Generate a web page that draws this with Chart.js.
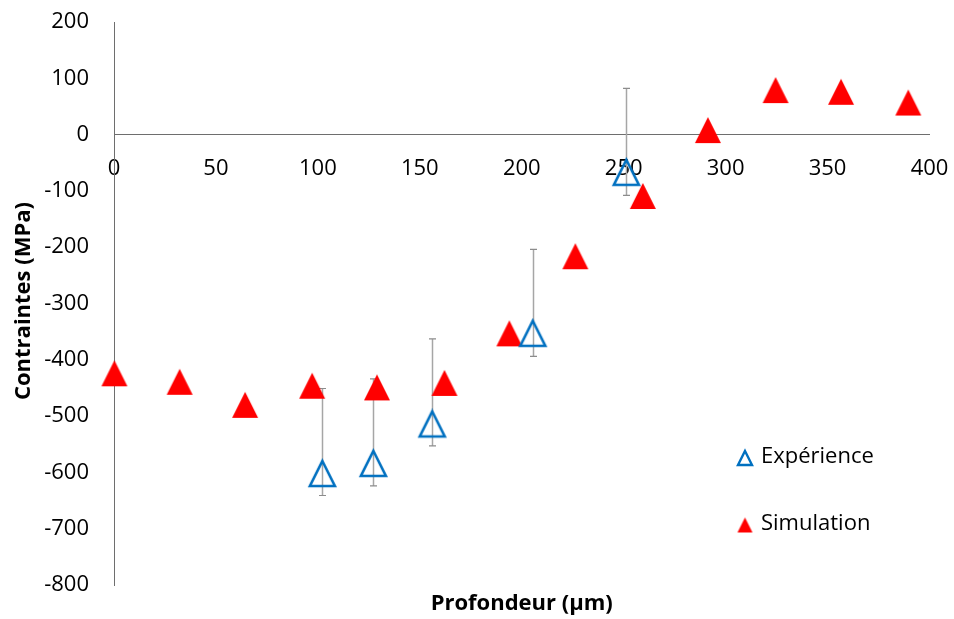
<!DOCTYPE html>
<html>
<head>
<meta charset="utf-8">
<script src="https://cdn.jsdelivr.net/npm/chart.js@4/dist/chart.umd.min.js"></script>
<style>
html,body{margin:0;padding:0;background:#fff;}
#wrap{width:954px;height:619px;position:relative;}
</style>
</head>
<body>
<div id="wrap"><canvas id="c" width="954" height="619"></canvas></div>
<script>
// ---- Data ----
const xTitle = "Profondeur (µm)";
const yTitle = "Contraintes (MPa)";
const expLabel = "Expérience";
const simLabel = "Simulation";

const expX = [102.2, 127.2, 156.1, 205.4, 251.3];
const expY = [-602, -584, -514, -353, -67];
const expErrPlus = [151, 150, 151, 149, 149];
const expErrMinus = [39, 40, 39, 41, 41];

const simX = [0.2, 32.2, 64.3, 97.2, 129, 162.1, 193.9, 226.3, 259.4, 291.3, 324.5, 356.6, 389.6];
const simY = [-424, -439, -480, -446, -449, -441, -353, -216, -109, 8, 79, 76, 57];

const xMin = 0, xMax = 400, xStep = 50;
const yMin = -800, yMax = 200, yStep = 100;

// ---- Styles ----
const FONT = "'Open Sans', 'Liberation Sans', sans-serif";
const BLUE = '#0070C0';
const RED = '#FF0000';

function makeTri(size, filled, color, lw) {
  const c = document.createElement('canvas');
  const s = size + 6;
  c.width = s; c.height = s;
  const g = c.getContext('2d');
  const cx = s / 2, cy = s / 2, h = size / 2;
  g.beginPath();
  g.moveTo(cx, cy - h);
  g.lineTo(cx + h, cy + h);
  g.lineTo(cx - h, cy + h);
  g.closePath();
  if (filled) { g.fillStyle = color; g.fill(); }
  else { g.strokeStyle = color; g.lineWidth = lw; g.lineJoin = 'miter'; g.stroke(); }
  return c;
}
const redTri = makeTri(26, true, RED);
const blueTri = makeTri(25, false, BLUE, 2.6);
const redTriS = makeTri(15, true, RED);
const blueTriS = makeTri(14, false, BLUE, 2.4);

const errorBars = {
  id: 'errorBars',
  beforeDatasetsDraw(chart) {
    const {ctx, scales: {x, y}} = chart;
    ctx.save();
    for (let i = 0; i < expX.length; i++) {
      const px = Math.round(x.getPixelForValue(expX[i])) + 0.5;
      const top = y.getPixelForValue(expY[i] + expErrPlus[i]);
      const bot = y.getPixelForValue(expY[i] - expErrMinus[i]);
      ctx.strokeStyle = '#a6a6a6';
      ctx.lineWidth = 1.5;
      ctx.beginPath();
      ctx.moveTo(px, top); ctx.lineTo(px, bot);
      ctx.stroke();
      ctx.strokeStyle = '#8c8c8c';
      ctx.lineWidth = 1.2;
      ctx.beginPath();
      ctx.moveTo(px - 3.5, top); ctx.lineTo(px + 3.5, top);
      ctx.moveTo(px - 3.5, bot); ctx.lineTo(px + 3.5, bot);
      ctx.stroke();
    }
    ctx.restore();
  }
};

const decorations = {
  id: 'decorations',
  afterDraw(chart) {
    const {ctx, chartArea} = chart;
    ctx.save();
    ctx.fillStyle = '#000';
    // x title
    ctx.font = "bold 22px " + FONT;
    ctx.textAlign = 'center';
    ctx.textBaseline = 'middle';
    ctx.fillText(xTitle, (chartArea.left + chartArea.right) / 2, 604);
    // y title
    ctx.save();
    ctx.translate(24, 301);
    ctx.rotate(-Math.PI / 2);
    ctx.fillText(yTitle, 0, 0);
    ctx.restore();
    // legend
    ctx.font = "22px " + FONT;
    ctx.textAlign = 'left';
    ctx.drawImage(blueTriS, 745 - blueTriS.width / 2, 458 - blueTriS.height / 2);
    ctx.fillText(expLabel, 761, 457);
    ctx.drawImage(redTriS, 745 - redTriS.width / 2, 525 - redTriS.height / 2);
    ctx.fillText(simLabel, 761, 524);
    ctx.restore();
  }
};

new Chart(document.getElementById('c'), {
  type: 'scatter',
  data: {
    datasets: [
      {
        label: expLabel,
        data: expX.map((v, i) => ({x: v, y: expY[i]})),
        pointStyle: blueTri,
        pointRadius: 13,
        clip: false
      },
      {
        label: simLabel,
        data: simX.map((v, i) => ({x: v, y: simY[i]})),
        pointStyle: redTri,
        pointRadius: 13,
        clip: false
      }
    ]
  },
  options: {
    responsive: false,
    animation: false,
    layout: {padding: {left: 0, right: 24.5, top: 22, bottom: 34}},
    plugins: {legend: {display: false}, tooltip: {enabled: false}},
    scales: {
      x: {
        type: 'linear',
        min: xMin, max: xMax,
        position: {y: 0},
        grid: {display: false, drawTicks: false},
        border: {display: true, color: '#6e6e6e', width: 1},
        ticks: {stepSize: xStep, color: '#000', font: {family: FONT, size: 22}, padding: 21, maxRotation: 0, autoSkip: false},
        afterFit(scale) { scale.paddingLeft = 0; scale.paddingRight = 0; }
      },
      y: {
        type: 'linear',
        min: yMin, max: yMax,
        grid: {display: false, drawTicks: false},
        border: {display: true, color: '#6e6e6e', width: 1},
        ticks: {stepSize: yStep, color: '#000', font: {family: FONT, size: 22}, padding: 25},
        afterFit(scale) { scale.width = 114; scale.paddingTop = 0; scale.paddingBottom = 0; }
      }
    }
  },
  plugins: [errorBars, decorations]
});
</script>
</body>
</html>
